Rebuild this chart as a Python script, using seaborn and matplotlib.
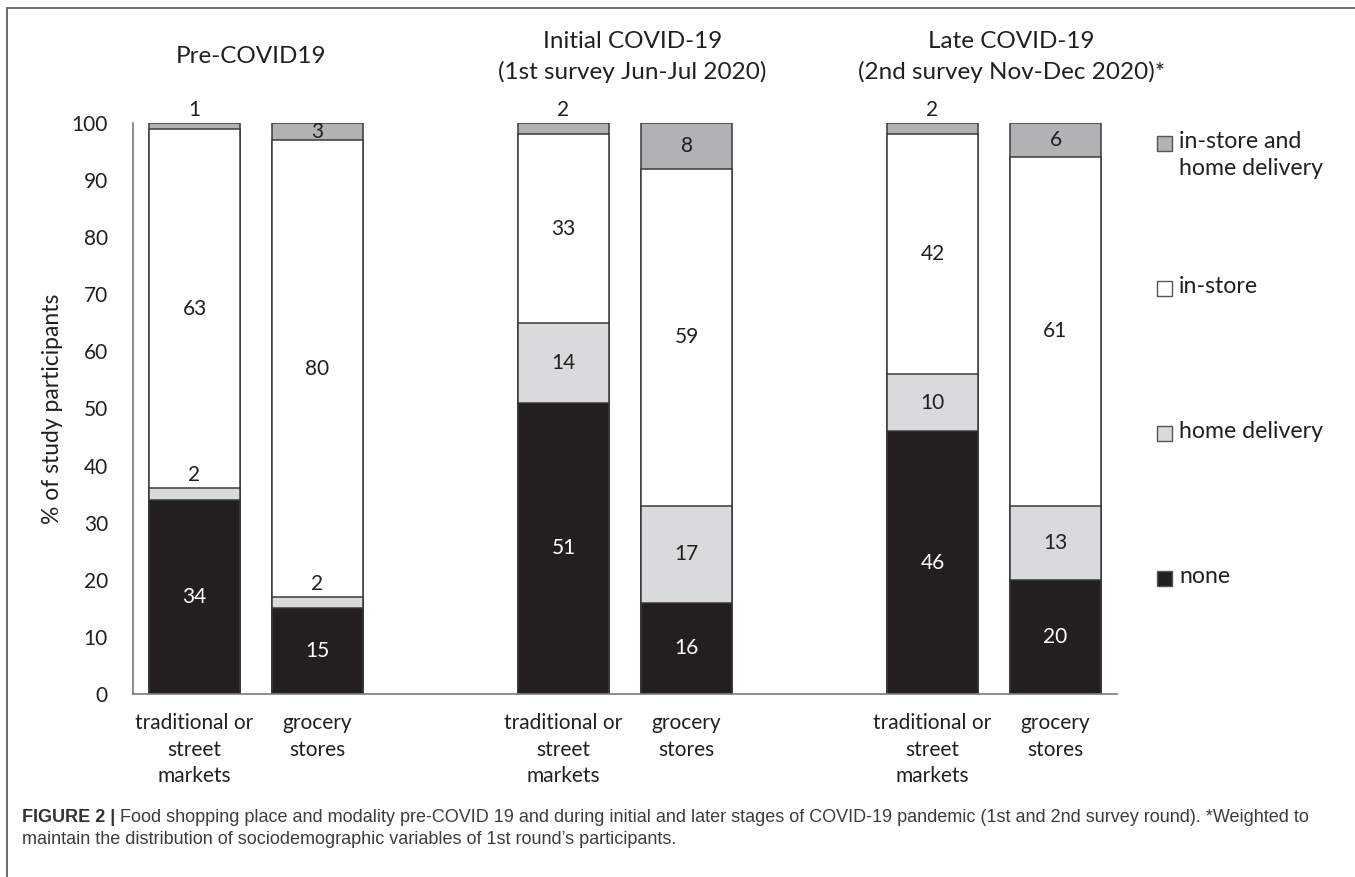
import numpy as np
import pandas as pd
import matplotlib
matplotlib.use("Agg")
import matplotlib.pyplot as plt
import seaborn as sns
from matplotlib.patches import Rectangle
from matplotlib.lines import Line2D

# Data
# ==================================================
periods = ["Pre-COVID19",
           "Initial COVID-19\n(1st survey Jun-Jul 2020)",
           "Late COVID-19\n(2nd survey Nov-Dec 2020)*"]
places = ["traditional or\nstreet\nmarkets", "grocery\nstores"]
modalities = ["none", "home delivery", "in-store", "in-store and\nhome delivery"]

# one value per bar: pre/trad, pre/groc, init/trad, init/groc, late/trad, late/groc
none_pct = [34, 15, 51, 16, 46, 20]
home_pct = [2, 2, 14, 17, 10, 13]
store_pct = [63, 80, 33, 59, 42, 61]
both_pct = [1, 3, 2, 8, 2, 6]

caption_bold = "FIGURE 2 |"
caption_1 = (" Food shopping place and modality pre-COVID 19 and during initial and later stages "
             "of COVID-19 pandemic (1st and 2nd survey round). *Weighted to")
caption_2 = "maintain the distribution of sociodemographic variables of 1st round\u2019s participants."

# Styling
# ==================================================
colors = ["#231f20", "#d9dadb", "#ffffff", "#b1b2b4"]
edge = "#3a3a3a"
txt = "#231f20"
FONT = "Lato"
FS = 15

sns.set_theme(style="white")
plt.rcParams["font.family"] = [FONT, "DejaVu Sans"]

# Long table: bar slots with empty gap slots between periods
slot_order = []
bar_slots = []
for i, p in enumerate(periods):
    for j, pl in enumerate(places):
        s = "p%d_%d" % (i, j)
        slot_order.append(s)
        bar_slots.append(s)
    if i < len(periods) - 1:
        slot_order.append("gap%d" % i)

values = np.array([none_pct, home_pct, store_pct, both_pct])
cum = np.cumsum(values, axis=0)

df = pd.DataFrame({"slot": bar_slots})
for k, m in enumerate(modalities):
    df["top_%d" % k] = cum[k]

fig = plt.figure(figsize=(13.55, 8.77), dpi=100)
W, H = 1355, 877
ax = fig.add_axes([133 / W, 1 - 694 / H, (1117 - 133) / W, (694 - 123) / H])

# draw cumulative tops from the highest layer down
for k in reversed(range(len(modalities))):
    sns.barplot(data=df, x="slot", y="top_%d" % k, order=slot_order,
                color=colors[k], saturation=1, edgecolor=edge, linewidth=1.1,
                width=0.74, errorbar=None, ax=ax)

ax.set_xlim(-0.5, len(slot_order) - 0.5)
ax.set_ylim(0, 100)
ax.set_yticks(range(0, 101, 10))
ax.tick_params(axis="y", length=0, pad=18, labelsize=FS, labelcolor=txt)
ax.tick_params(axis="x", length=0, pad=14, labelsize=FS, labelcolor=txt)

tick_labels = []
for s in slot_order:
    if s.startswith("gap"):
        tick_labels.append("")
    else:
        tick_labels.append(places[int(s[-1])])
ax.set_xticks(range(len(slot_order)))
ax.set_xticklabels(tick_labels, linespacing=1.4)
ax.set_xlabel("")
ax.set_ylabel("% of study participants", fontsize=16.5, color=txt, labelpad=6)

for sp in ["top", "right"]:
    ax.spines[sp].set_visible(False)
for sp in ["left", "bottom"]:
    ax.spines[sp].set_color("#7a7a7a")
    ax.spines[sp].set_linewidth(1.2)

# segment labels
for b, s in enumerate(bar_slots):
    xpos = slot_order.index(s)
    for k in range(len(modalities)):
        v = values[k, b]
        top = cum[k, b]
        c = "white" if k == 0 else txt
        if v < 3:
            ax.text(xpos, top + 0.6, str(v), ha="center", va="bottom",
                    fontsize=FS, color=c)
        else:
            ax.text(xpos, top - v / 2, str(v), ha="center", va="center",
                    fontsize=FS, color=c)

# period titles
title_dx = [-0.04, 0.06, 0.14]
for i, p in enumerate(periods):
    xs = [slot_order.index("p%d_%d" % (i, j)) for j in range(len(places))]
    ax.text(np.mean(xs) + title_dx[i], 111.6, p, ha="center", va="center",
            fontsize=17.5, color=txt, linespacing=1.5, clip_on=False)

# legend (top entry first)
leg_y = [143, 288, 433, 578]
for n, k in enumerate(reversed(range(len(modalities)))):
    y = leg_y[n]
    fig.add_artist(Rectangle((1157 / W, 1 - (y + 7.5) / H), 15 / W, 15 / H,
                             facecolor=colors[k], edgecolor="#555555", linewidth=1,
                             transform=fig.transFigure))
    fig.text(1179 / W, 1 - (y - 12) / H, modalities[k], ha="left", va="top",
             fontsize=16.7, color=txt, linespacing=1.35)

# frame lines
fig.add_artist(Line2D([7 / W, 7 / W], [1 - 8 / H, 0], color="#6a6a6a", lw=1.4))
fig.add_artist(Line2D([7 / W, 1], [1 - 8 / H, 1 - 8 / H], color="#6a6a6a", lw=1.4))

# caption
cap_fs = 13
t0 = fig.text(22 / W, 1 - 817 / H, caption_bold, ha="left", va="center",
              fontsize=cap_fs, fontweight="bold", color="#333333",
              family="Liberation Sans")
fig.canvas.draw()
bb = t0.get_window_extent()
fig.text(bb.x1 / W, 1 - 817 / H, caption_1, ha="left", va="center",
         fontsize=cap_fs, color="#3c3c3c", family="Liberation Sans")
fig.text(22 / W, 1 - 840 / H, caption_2, ha="left", va="center",
         fontsize=cap_fs, color="#3c3c3c", family="Liberation Sans")

fig.savefig("out.png", dpi=100, facecolor="white")
